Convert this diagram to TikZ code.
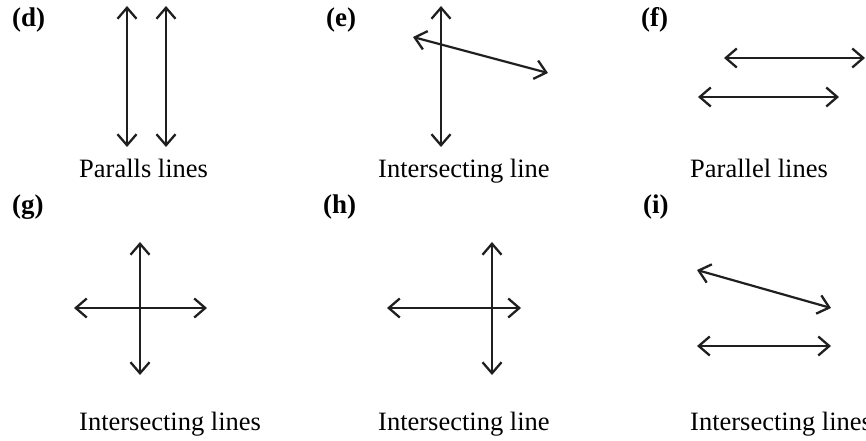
\documentclass[tikz,border=0pt]{standalone}
\usepackage{fontspec}
\setmainfont{Liberation Serif}
\usetikzlibrary{arrows.meta}
\begin{document}
\begin{tikzpicture}[x=1pt,y=-1pt,
  tipv/.tip={Straight Barb[length=11pt,width=19pt,line width=2.3pt]},
  dline/.style={line width=2.2pt,color=black!88,tipv-tipv},
  plabel/.style={anchor=base west,inner sep=0pt,font=\fontsize{27}{30}\selectfont\bfseries},
  caption/.style={anchor=base west,inner sep=0pt,font=\fontsize{26.5}{30}\selectfont}]
\useasboundingbox (0,0) rectangle (866,441);
% (d)
\node[plabel] (ld) at (12,27) {(d)};
\coordinate (d1a) at (127,6); \coordinate (d1b) at (127,147);
\coordinate (d2a) at (166,6); \coordinate (d2b) at (166,147);
\draw[dline] (d1a) -- (d1b);
\draw[dline] (d2a) -- (d2b);
\node[caption] (cd) at (79,177) {Paralls lines};
% (e)
\node[plabel] (le) at (326,27) {(e)};
\coordinate (e1a) at (441,6); \coordinate (e1b) at (441,147);
\coordinate (e2a) at (413,37); \coordinate (e2b) at (548,73);
\draw[dline] (e1a) -- (e1b);
\draw[dline] (e2a) -- (e2b);
\node[caption] (ce) at (378,177) {Intersecting line};
% (f)
\node[plabel] (lf) at (641,27) {(f)};
\coordinate (f1a) at (724,58); \coordinate (f1b) at (865,58);
\coordinate (f2a) at (698,97); \coordinate (f2b) at (839,97);
\draw[dline] (f1a) -- (f1b);
\draw[dline] (f2a) -- (f2b);
\node[caption] (cf) at (690,177) {Parallel lines};
% (g)
\node[plabel] (lg) at (12,213) {(g)};
\coordinate (g1a) at (140,242); \coordinate (g1b) at (140,375);
\coordinate (g2a) at (74,308); \coordinate (g2b) at (207,308);
\draw[dline] (g1a) -- (g1b);
\draw[dline] (g2a) -- (g2b);
\node[caption] (cg) at (79,430) {Intersecting lines};
% (h)
\node[plabel] (lh) at (323,213) {(h)};
\coordinate (h1a) at (492,242); \coordinate (h1b) at (492,375);
\coordinate (h2a) at (387,308); \coordinate (h2b) at (521,308);
\draw[dline] (h1a) -- (h1b);
\draw[dline] (h2a) -- (h2b);
\node[caption] (ch) at (378,430) {Intersecting line};
% (i)
\node[plabel] (li) at (643,213) {(i)};
\coordinate (i1a) at (697,270); \coordinate (i1b) at (831,308);
\coordinate (i2a) at (697,346); \coordinate (i2b) at (831,346);
\draw[dline] (i1a) -- (i1b);
\draw[dline] (i2a) -- (i2b);
\node[caption] (ci) at (690,430) {Intersecting lines};
\end{tikzpicture}
\end{document}
